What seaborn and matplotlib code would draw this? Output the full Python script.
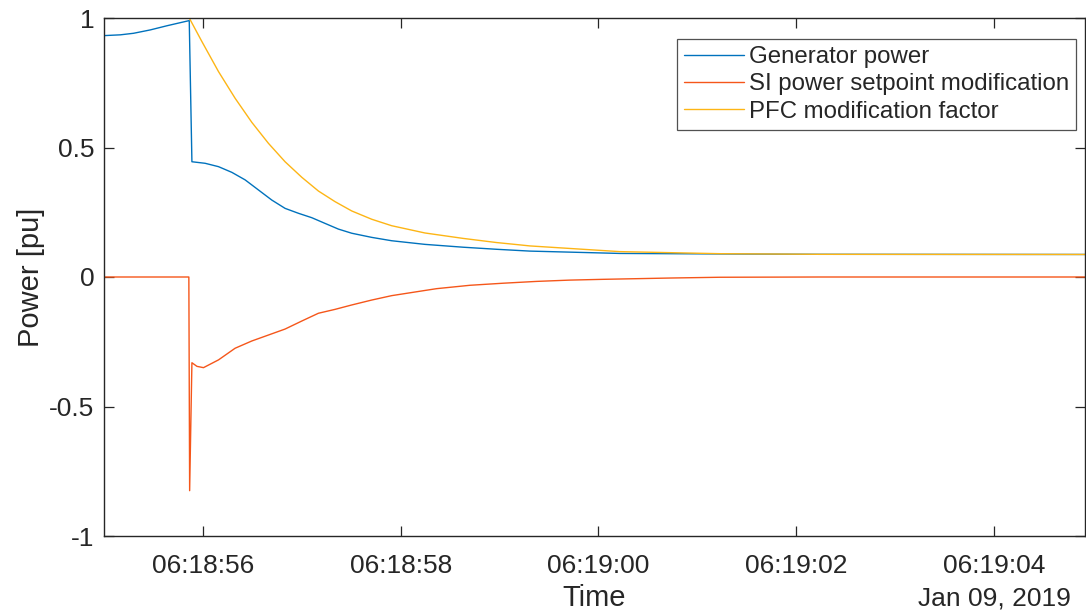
import numpy as np
import pandas as pd
import matplotlib
matplotlib.use("Agg")
import matplotlib.pyplot as plt
import matplotlib.dates as mdates
import matplotlib.transforms as mtransforms
import seaborn as sns

# ---- data (seconds after 06:18:00) ----
gen_t = [55.0, 55.165, 55.299, 55.468, 55.636, 55.862, 55.889, 56.023, 56.158, 56.293,
         56.427, 56.562, 56.697, 56.831, 56.966, 57.101, 57.235, 57.370, 57.505,
         57.707, 57.909, 58.245, 58.632, 58.970, 59.306, 60.215, 61.225, 62.235, 64.92]
gen_p = [0.932, 0.935, 0.941, 0.954, 0.970, 0.990, 0.445, 0.439, 0.426, 0.404,
         0.375, 0.336, 0.297, 0.265, 0.246, 0.229, 0.207, 0.185, 0.169,
         0.153, 0.140, 0.126, 0.115, 0.107, 0.100, 0.091, 0.089, 0.0876, 0.087]

si_t = [55.0, 55.858, 55.866, 55.889, 55.94, 56.006, 56.158, 56.326, 56.495, 56.663,
        56.831, 57.0, 57.168, 57.336, 57.505, 57.707, 57.909, 58.245, 58.364, 58.70,
        59.036, 59.374, 59.71, 60.046, 60.384, 60.72, 61.225, 62.235, 64.92]
si_p = [0.0, 0.0, -0.825, -0.331, -0.345, -0.350, -0.320, -0.275, -0.247, -0.224,
        -0.201, -0.170, -0.140, -0.125, -0.108, -0.089, -0.072, -0.052, -0.045, -0.032,
        -0.024, -0.017, -0.012, -0.009, -0.0065, -0.004, -0.001, 0.0, 0.0]

pfc_t = [55.0, 55.862, 55.990, 56.158, 56.326, 56.495, 56.663, 56.831, 57.0, 57.168,
         57.336, 57.505, 57.707, 57.909, 58.245, 58.632, 58.970, 59.205, 59.306,
         60.215, 61.225, 62.235, 64.92]
pfc_p = [1.0, 1.0, 0.909, 0.793, 0.690, 0.597, 0.516, 0.445, 0.385, 0.332,
         0.291, 0.255, 0.223, 0.198, 0.170, 0.149, 0.133, 0.124, 0.120,
         0.098, 0.090, 0.0876, 0.087]

series_names = ["Generator power", "SI power setpoint modification", "PFC modification factor"]
series_colors = ["#0072BD", "#F5561A", "#FDB515"]
tick_seconds = [56, 58, 60, 62, 64]
x_start, x_end = 55.0, 64.92
y_ticks = [-1, -0.5, 0, 0.5, 1]
y_ticklabels = ["-1", "-0.5", "0", "0.5", "1"]
date_label = "Jan 09, 2019"

base = pd.Timestamp("2019-01-09 06:18:00")
def to_time(secs):
    return [base + pd.Timedelta(seconds=s) for s in secs]

frames = []
for name, t, p in zip(series_names, [gen_t, si_t, pfc_t], [gen_p, si_p, pfc_p]):
    frames.append(pd.DataFrame({"Time": to_time(t), "Power": p, "Series": name}))
df = pd.concat(frames, ignore_index=True)

sns.set_style("ticks")
plt.rcParams["font.family"] = ["Liberation Sans", "DejaVu Sans"]

fig = plt.figure(figsize=(10.86, 6.12), dpi=100)
ax = fig.add_axes([104 / 1086, 1 - 536 / 612, 981 / 1086, 518 / 612])

sns.lineplot(data=df, x="Time", y="Power", hue="Series", palette=series_colors,
             hue_order=series_names, estimator=None, sort=False, linewidth=1.0, ax=ax)

ax.set_xlim(base + pd.Timedelta(seconds=x_start), base + pd.Timedelta(seconds=x_end))
ax.set_ylim(-1, 1)
ax.set_xticks(to_time(tick_seconds))
ax.xaxis.set_major_formatter(mdates.DateFormatter("%H:%M:%S"))
ax.set_yticks(y_ticks)
ax.set_yticklabels(y_ticklabels)

dark = "#262626"
for sp in ax.spines.values():
    sp.set_visible(True)
    sp.set_color(dark)
    sp.set_linewidth(1.0)
ax.tick_params(direction="in", length=7.2, width=0.9, colors=dark, labelsize=19,
               top=True, right=True)
ax.tick_params(axis="y", pad=7)
ax.tick_params(axis="x", pad=13)

ax.set_xlabel("Time", fontsize=21, color=dark, labelpad=4)
ax.set_ylabel("Power [pu]", fontsize=21, color=dark, labelpad=3)

trans = mtransforms.blended_transform_factory(ax.transData, ax.transAxes)
ax.text(mdates.date2num(base + pd.Timedelta(seconds=tick_seconds[-1])), -0.12, date_label,
        transform=trans, ha="center", va="center", fontsize=19, color=dark)

leg = ax.legend(loc="upper right", bbox_to_anchor=(0.991, 0.9595), borderaxespad=0,
                fontsize=17.3, handlelength=2.5, handletextpad=0.2, labelspacing=0.22,
                borderpad=0.3, frameon=True, fancybox=False, title=None)
leg.get_frame().set_edgecolor(dark)
leg.get_frame().set_linewidth(0.9)
for line in leg.get_lines():
    line.set_linewidth(1.0)

fig.savefig("out.png", dpi=100)
